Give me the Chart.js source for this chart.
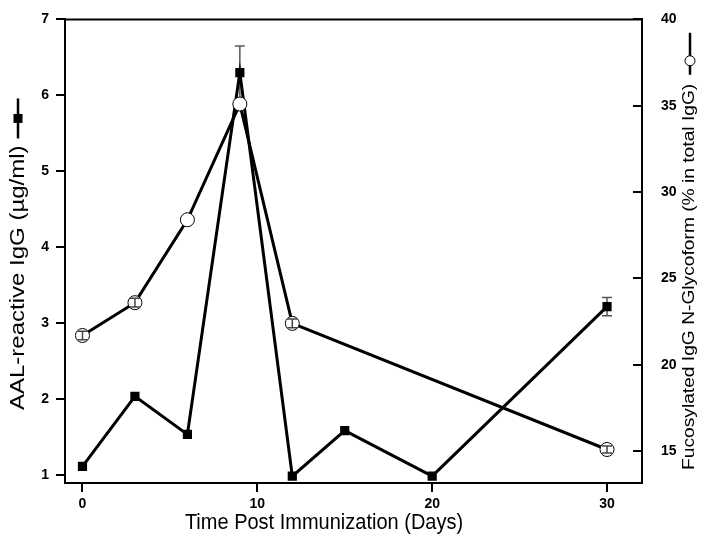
<!DOCTYPE html>
<html>
<head>
<meta charset="utf-8">
<script src="https://cdn.jsdelivr.net/npm/chart.js@4.4.0/dist/chart.umd.min.js"></script>
<style>
  html, body { margin: 0; padding: 0; background: #fff; }
  #wrap { width: 706px; height: 545px; }
</style>
</head>
<body>
<div id="wrap"><canvas id="chart" width="706" height="545"></canvas></div>
<script>
// days on the x axis
const aalDays = [0, 3, 6, 9, 12, 15, 20, 30];
const aalValues = [1.12, 2.04, 1.54, 6.30, 0.99, 1.59, 0.99, 3.22];
const aalErrors = [0, 0, 0, 0.35, 0, 0, 0, 0.12];

const fucDays = [0, 3, 6, 9, 12, 30];
const fucValues = [21.7, 23.6, 28.4, 35.1, 22.4, 15.1];
const fucErrors = [0.25, 0.25, 0, 0, 0.25, 0.2];

const xTicks = [0, 10, 20, 30];
const leftTicks = [1, 2, 3, 4, 5, 6, 7];
const rightTicks = [15, 20, 25, 30, 35, 40];

const xTitle = "Time Post Immunization (Days)";
const leftTitle = "AAL-reactive IgG (\u00b5g/ml)";
const rightTitle = "Fucosylated IgG N-Glycoform (% in total IgG)";

const FONT = "Arial, 'Liberation Sans', sans-serif";
const STRETCH = 1.2; // the original figure is a bit taller than wide

function toPoints(xs, ys) {
  return xs.map((x, i) => ({ x: x, y: ys[i] }));
}

// draws error bars for one dataset
function drawErrors(chart, dsIndex, errs, axisId, color) {
  const ctx = chart.ctx;
  const xs = chart.scales.x;
  const ys = chart.scales[axisId];
  const data = chart.data.datasets[dsIndex].data;
  ctx.save();
  ctx.strokeStyle = color;
  ctx.lineWidth = 1.5;
  data.forEach((p, i) => {
    if (!errs[i]) return;
    const px = xs.getPixelForValue(p.x);
    const top = ys.getPixelForValue(p.y + errs[i]);
    const bot = ys.getPixelForValue(p.y - errs[i]);
    ctx.beginPath();
    ctx.moveTo(px, top); ctx.lineTo(px, bot);
    ctx.moveTo(px - 5, top); ctx.lineTo(px + 5, top);
    ctx.moveTo(px - 5, bot); ctx.lineTo(px + 5, bot);
    ctx.stroke();
  });
  ctx.restore();
}

// rotated title, read bottom to top, followed by a small legend symbol
function verticalTitle(ctx, text, x, yStart, size, gap, lineLen, markAt, mark) {
  ctx.save();
  ctx.translate(x, yStart);
  ctx.rotate(-Math.PI / 2);
  ctx.font = size + "px " + FONT;
  ctx.textAlign = "left";
  ctx.textBaseline = "middle";
  const w = ctx.measureText(text).width * STRETCH;
  ctx.save();
  ctx.scale(STRETCH, 1);
  ctx.fillText(text, 0, 0);
  ctx.restore();
  const s = w + gap;
  ctx.strokeStyle = "#000";
  ctx.lineWidth = 2.5;
  ctx.beginPath();
  ctx.moveTo(s, 0);
  ctx.lineTo(s + lineLen, 0);
  ctx.stroke();
  const m = s + markAt;
  if (mark === "square") {
    ctx.fillStyle = "#000";
    ctx.fillRect(m - 4.5, -4.5, 9, 9);
  } else {
    ctx.fillStyle = "#fff";
    ctx.lineWidth = 1;
    ctx.beginPath();
    ctx.arc(m, 0, 5, 0, Math.PI * 2);
    ctx.fill();
    ctx.stroke();
  }
  ctx.restore();
}

const extras = {
  id: "extras",
  beforeDatasetsDraw(chart) {
    drawErrors(chart, 0, aalErrors, "y", "#555");
  },
  afterDatasetsDraw(chart) {
    drawErrors(chart, 1, fucErrors, "y2", "#444");
  },
  afterDraw(chart) {
    const ctx = chart.ctx;
    const a = chart.chartArea;
    ctx.save();
    ctx.strokeStyle = "#000";
    ctx.lineWidth = 2;
    // top frame line
    ctx.beginPath();
    ctx.moveTo(a.left, a.top);
    ctx.lineTo(a.right + 1, a.top);
    ctx.stroke();
    // right axis ticks point inward
    const r = chart.scales.y2;
    rightTicks.forEach(v => {
      const py = Math.round(r.getPixelForValue(v));
      ctx.beginPath();
      ctx.moveTo(a.right - 9, py);
      ctx.lineTo(a.right, py);
      ctx.stroke();
    });

    // x axis title
    ctx.fillStyle = "#000";
    ctx.textAlign = "center";
    ctx.textBaseline = "middle";
    ctx.font = "20px " + FONT;
    ctx.save();
    ctx.translate(324, 523);
    ctx.scale(1, 1.12);
    ctx.fillText(xTitle, 0, 0);
    ctx.restore();
    ctx.restore();

    verticalTitle(ctx, leftTitle, 18, 410, 20, 7, 40, 20, "square");
    verticalTitle(ctx, rightTitle, 690, 470, 16, 9, 42, 14, "circle");
  }
};

const tickFont = { family: FONT, size: 14, weight: "bold" };

new Chart(document.getElementById("chart"), {
  type: "line",
  data: {
    datasets: [
      {
        label: "AAL-reactive IgG",
        data: toPoints(aalDays, aalValues),
        yAxisID: "y",
        borderColor: "#000",
        borderWidth: 3,
        pointStyle: "rect",
        pointRadius: 6.5,
        pointBackgroundColor: "#000",
        pointBorderColor: "#000",
        pointBorderWidth: 0,
        tension: 0,
        order: 2,
      },
      {
        label: "Fucosylated IgG N-Glycoform",
        data: toPoints(fucDays, fucValues),
        yAxisID: "y2",
        borderColor: "#000",
        borderWidth: 3,
        pointStyle: "circle",
        pointRadius: 7,
        pointBackgroundColor: "#fff",
        pointBorderColor: "#000",
        pointBorderWidth: 1,
        tension: 0,
        order: 1,
      },
    ],
  },
  options: {
    responsive: false,
    animation: false,
    layout: { padding: { top: 15, left: 0, right: 0, bottom: 0 } },
    plugins: {
      legend: { display: false },
      tooltip: { enabled: false },
    },
    scales: {
      x: {
        type: "linear",
        min: -1,
        max: 32,
        afterBuildTicks: (s) => { s.ticks = xTicks.map(v => ({ value: v })); },
        afterFit: (s) => { s.height = 62; },
        grid: { drawOnChartArea: false, tickLength: 9, color: "#000", lineWidth: 2 },
        border: { color: "#000", width: 2 },
        ticks: { color: "#000", font: tickFont, padding: 4, maxRotation: 0 },
      },
      y: {
        type: "linear",
        position: "left",
        min: 0.9,
        max: 7,
        afterBuildTicks: (s) => { s.ticks = leftTicks.map(v => ({ value: v })); },
        afterFit: (s) => { s.width = 65; },
        grid: { drawOnChartArea: false, tickLength: 9, color: "#000", lineWidth: 2 },
        border: { color: "#000", width: 2 },
        ticks: { color: "#000", font: tickFont, padding: 7 },
      },
      y2: {
        type: "linear",
        position: "right",
        min: 13.16,
        max: 40,
        afterBuildTicks: (s) => { s.ticks = rightTicks.map(v => ({ value: v })); },
        afterFit: (s) => { s.width = 64; },
        grid: { display: false },
        border: { display: true, color: "#000", width: 2 },
        ticks: { color: "#000", font: tickFont, padding: 11 },
      },
    },
  },
  plugins: [extras],
});
</script>
</body>
</html>
